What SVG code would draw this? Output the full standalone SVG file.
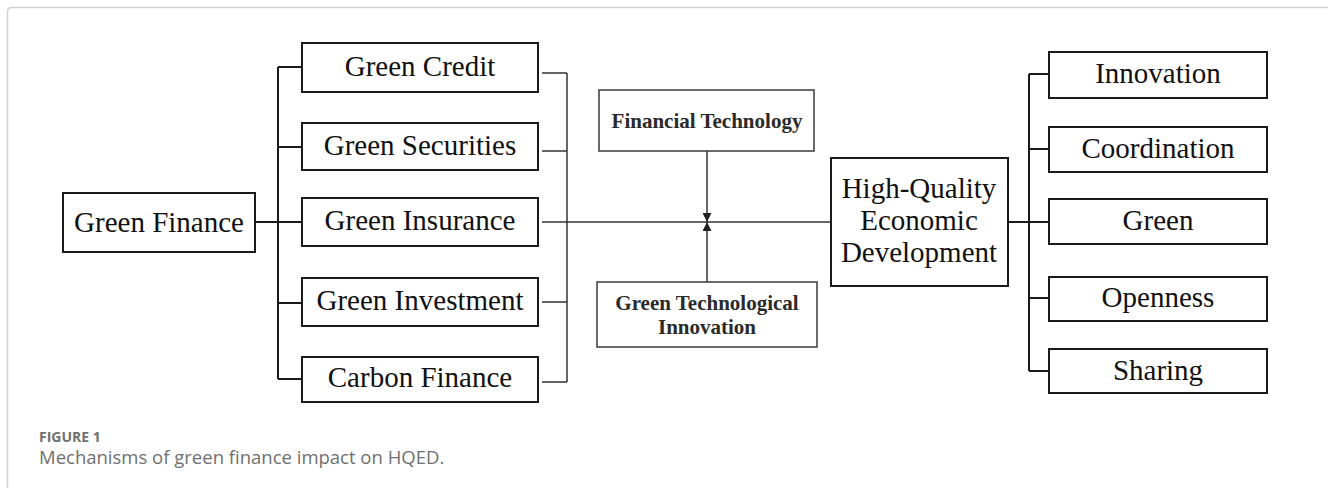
<svg xmlns="http://www.w3.org/2000/svg" width="1328" height="488" viewBox="0 0 1328 488">
<defs>
<style>
.box{fill:#fff;stroke:#1a1a1a;stroke-width:2}
.cbox{fill:#fff;stroke:#3a3a3a;stroke-width:1.5}
.t{font-family:"Liberation Serif","Times New Roman",serif;font-size:29px;fill:#111;text-anchor:middle}
.tb{font-family:"Liberation Serif","Times New Roman",serif;font-size:21px;font-weight:bold;fill:#2a2a2a;text-anchor:middle}
.ln{stroke:#1a1a1a;stroke-width:2;fill:none}
.thin{stroke:#333;stroke-width:1.5;fill:none}
.cap{font-family:"Open Sans","Liberation Sans",sans-serif;fill:#707070}
</style>
<marker id="ah" viewBox="0 0 10 10" refX="10" refY="5" markerUnits="userSpaceOnUse" markerWidth="10" markerHeight="9" orient="auto">
<path d="M0,0 L10,5 L0,10 z" fill="#222"/>
</marker>
</defs>
<rect width="1328" height="488" fill="#fff"/>
<path d="M7.5,488 V12 Q7.5,7.5 12,7.5 H1328" fill="none" stroke="#d2d2d2" stroke-width="1.5"/>

<g id="connectors">
<path class="ln" d="M255,222 H302"/>
<path class="ln" d="M278,67 V379"/>
<path class="ln" d="M278,67 H302 M278,147 H302 M278,303 H302 M278,379 H302"/>
<path class="thin" d="M567,73 V382"/>
<path class="thin" d="M542,73 H567 M542,151 H567 M542,302 H567 M542,382 H567"/>
<path class="thin" d="M542,222 H831"/>
<path class="thin" d="M707,151 V222" marker-end="url(#ah)"/>
<path class="thin" d="M707,282 V222" marker-end="url(#ah)"/>
<path class="ln" d="M1008,222 H1049"/>
<path class="ln" d="M1029,74 V371"/>
<path class="ln" d="M1029,74 H1049 M1029,149 H1049 M1029,298 H1049 M1029,371 H1049"/>
</g>

<g id="green-finance"><rect class="box" x="63" y="193" width="192" height="59"/><text class="t" x="159" y="232">Green Finance</text></g>

<g id="green-credit"><rect class="box" x="302" y="43" width="236" height="49"/><text class="t" x="420" y="76">Green Credit</text></g>
<g id="green-securities"><rect class="box" x="302" y="123" width="236" height="47"/><text class="t" x="420" y="155">Green Securities</text></g>
<g id="green-insurance"><rect class="box" x="302" y="198" width="236" height="48"/><text class="t" x="420" y="230">Green Insurance</text></g>
<g id="green-investment"><rect class="box" x="302" y="278" width="236" height="48"/><text class="t" x="420" y="310">Green Investment</text></g>
<g id="carbon-finance"><rect class="box" x="302" y="357" width="236" height="45"/><text class="t" x="420" y="387">Carbon Finance</text></g>

<g id="financial-technology"><rect class="cbox" x="599" y="90" width="215" height="61"/><text class="tb" x="707" y="128">Financial Technology</text></g>
<g id="green-tech-innovation"><rect class="cbox" x="597" y="282" width="220" height="65"/><text class="tb" x="707" y="310">Green Technological</text><text class="tb" x="707" y="334">Innovation</text></g>

<g id="hqed"><rect class="box" x="831" y="158" width="177" height="128"/><text class="t" x="919" y="198">High-Quality</text><text class="t" x="919" y="230">Economic</text><text class="t" x="919" y="262">Development</text></g>

<g id="innovation"><rect class="box" x="1049" y="52" width="218" height="46"/><text class="t" x="1158" y="83">Innovation</text></g>
<g id="coordination"><rect class="box" x="1049" y="127" width="218" height="45"/><text class="t" x="1158" y="158">Coordination</text></g>
<g id="green"><rect class="box" x="1049" y="199" width="218" height="45"/><text class="t" x="1158" y="230">Green</text></g>
<g id="openness"><rect class="box" x="1049" y="277" width="218" height="44"/><text class="t" x="1158" y="307">Openness</text></g>
<g id="sharing"><rect class="box" x="1049" y="349" width="218" height="44"/><text class="t" x="1158" y="380">Sharing</text></g>

<text class="cap" x="39" y="442" font-size="14" font-weight="bold">FIGURE 1</text>
<text class="cap" x="39" y="464" font-size="18.5">Mechanisms of green finance impact on HQED.</text>
</svg>
